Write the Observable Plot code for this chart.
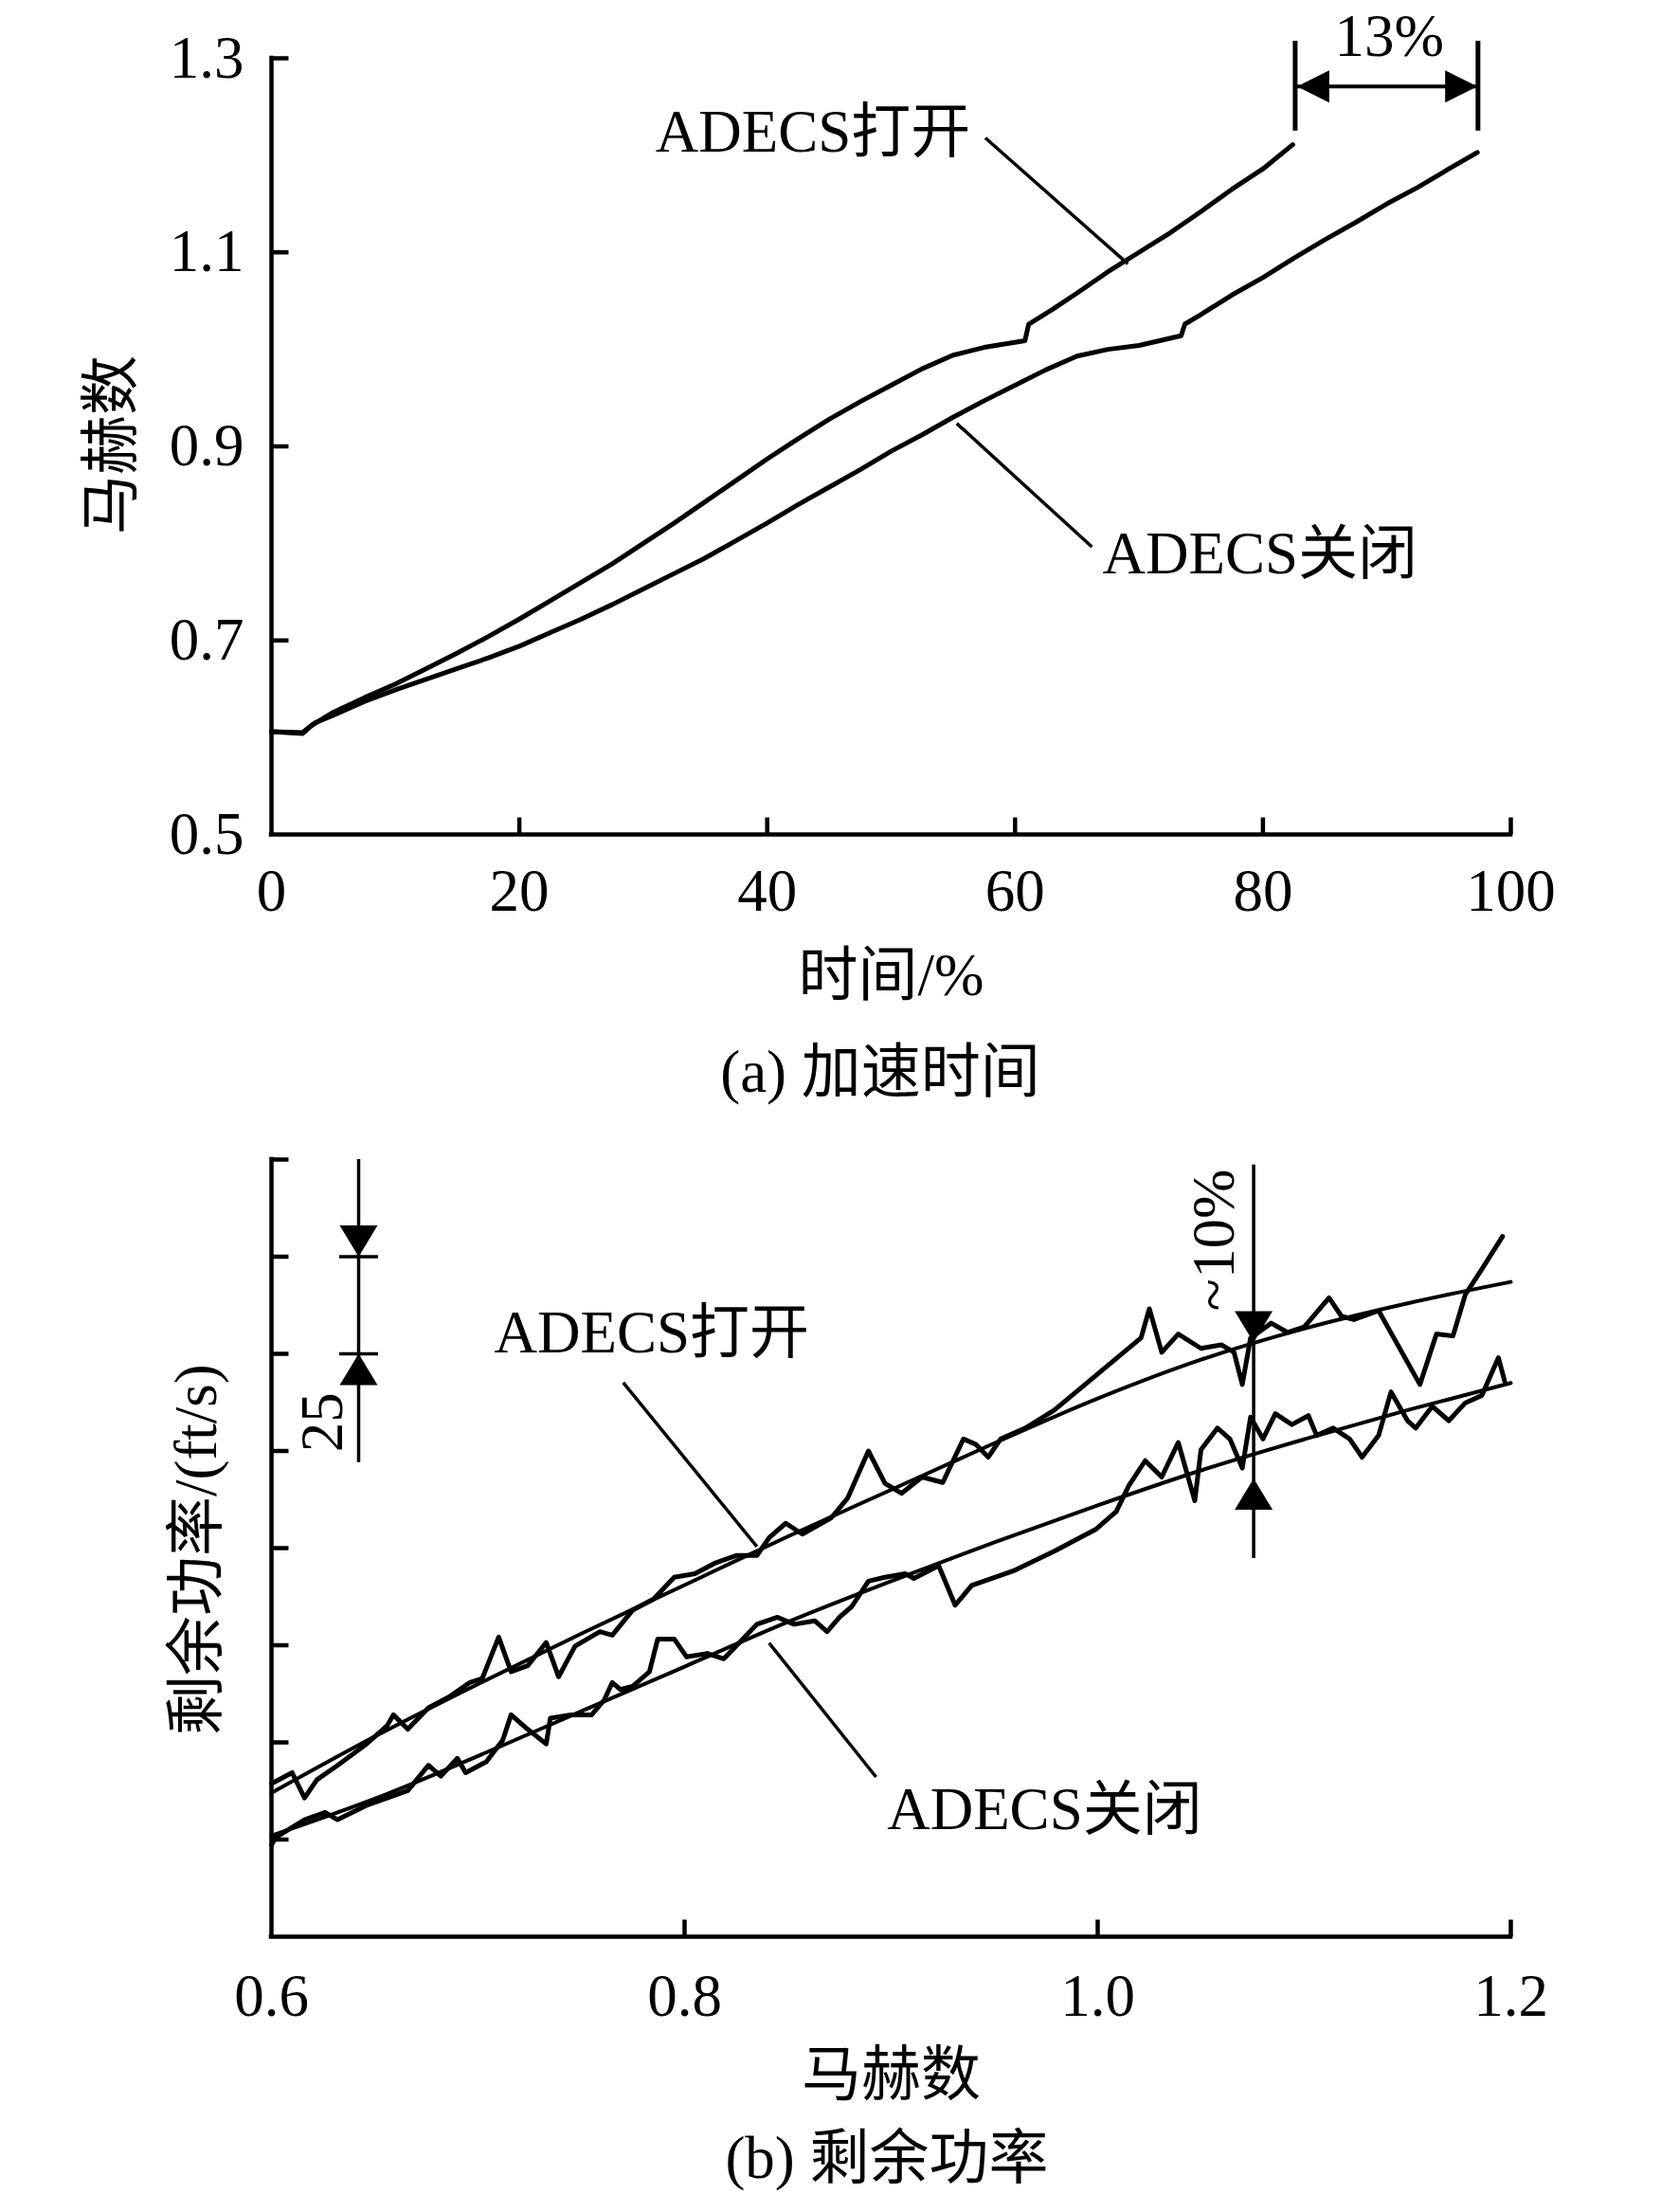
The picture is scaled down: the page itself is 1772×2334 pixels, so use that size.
<!DOCTYPE html>
<html><head><meta charset="utf-8">
<script src="https://cdn.jsdelivr.net/npm/d3@7"></script>
<script src="https://cdn.jsdelivr.net/npm/@observablehq/plot@0.6"></script>
<style>
body{margin:0;background:#fff;}
#page{position:relative;width:1772px;height:2334px;background:#fff;font-family:'Liberation Serif','Noto Sans CJK SC',serif;color:#000;}
.cap{position:absolute;font-size:63px;transform:translate(-50%,-50%);white-space:nowrap;line-height:1;}
#a,#b{position:absolute;left:0;}
#a{top:0;} #b{top:1190px;}
</style></head><body>
<div id="page"><div id="a"></div><div class="cap" id="capA" style="left:929px;top:1131px">(a) 加速时间</div><div id="b"></div><div class="cap" id="capB" style="left:936px;top:2277px">(b) 剩余功率</div></div>
<script>
// ---------- (a) 加速时间 ----------
const timeOpenA = [0,2.5,3.2,5,7.5,10,12.5,15,17.5,20,22.5,25,27.5,30,32.5,35,37.5,40,42.5,45,47.5,50,52.5,55,57.5,60.8,61.1,63,65,67.5,70,72.5,75,77.5,80,82.4];
const machOpenA = [0.606,0.604,0.612,0.626,0.641,0.655,0.671,0.687,0.704,0.722,0.741,0.76,0.779,0.8,0.821,0.843,0.865,0.887,0.908,0.928,0.946,0.963,0.98,0.994,1.002,1.009,1.026,1.041,1.058,1.08,1.1,1.12,1.142,1.165,1.186,1.211];
const timeClosedA = [0,2.5,3.5,5,7.5,10,12.5,15,17.5,20,22.5,25,27.5,30,32.5,35,37.5,40,42.5,45,47.5,50,52.5,55,57.5,60,62.5,65,67.5,70,73.4,73.7,75,77.5,80,82.5,85,87.5,90,92.5,95,97.3];
const machClosedA = [0.606,0.605,0.615,0.623,0.637,0.649,0.66,0.671,0.682,0.694,0.708,0.722,0.737,0.753,0.769,0.785,0.803,0.821,0.84,0.858,0.876,0.895,0.912,0.93,0.947,0.963,0.979,0.993,1.0,1.004,1.014,1.026,1.036,1.056,1.074,1.094,1.113,1.131,1.15,1.167,1.186,1.203];
const xTicksA = [0,20,40,60,80,100];
const yTicksA = [0.5,0.7,0.9,1.1,1.3];

// ---------- (b) 剩余功率 ----------
const machNoisyOpen = [0.600,0.610,0.616,0.622,0.632,0.646,0.656,0.659,0.666,0.676,0.686,0.696,0.702,0.710,0.716,0.724,0.733,0.739,0.747,0.759,0.765,0.775,0.785,0.795,0.805,0.815,0.825,0.835,0.841,0.849,0.857,0.871,0.879,0.889,0.897,0.905,0.915,0.925,0.935,0.941,0.947,0.953,0.965,0.979,1.021,1.025,1.031,1.039,1.050,1.060,1.066,1.070,1.074,1.084,1.092,1.100,1.112,1.118,1.124,1.136,1.156,1.164,1.172,1.178,1.186,1.196];
const powerNoisyOpen = [39.4,42.2,35.7,40.4,44.1,49.6,54.3,57.1,53.4,58.9,61.7,65.4,66.4,77.1,68.2,69.7,75.7,66.9,74.8,78.5,77.6,84.1,86.9,92.5,93.4,96.2,98.1,98.1,102.7,106.4,103.6,107.8,112.9,125.0,116.7,114.1,118.3,116.9,128.1,126.7,123.4,128.1,130.9,135.5,154.1,161.6,150.4,155.1,151.4,152.3,150.4,142.1,154.1,157.9,155.5,156.9,164.4,159.7,158.8,161.1,142.1,155.1,154.6,165.3,171.8,180.2];
const machNoisyClosed = [0.600,0.602,0.616,0.626,0.632,0.646,0.656,0.666,0.676,0.682,0.690,0.694,0.704,0.712,0.716,0.724,0.733,0.735,0.745,0.755,0.761,0.765,0.769,0.775,0.783,0.787,0.795,0.801,0.811,0.819,0.825,0.835,0.845,0.853,0.863,0.869,0.875,0.881,0.889,0.897,0.907,0.911,0.923,0.931,0.939,0.959,0.979,0.999,1.009,1.015,1.023,1.031,1.039,1.047,1.050,1.058,1.064,1.070,1.074,1.080,1.086,1.094,1.102,1.106,1.114,1.122,1.128,1.136,1.142,1.150,1.154,1.162,1.170,1.178,1.186,1.194,1.197];
const powerNoisyClosed = [23.6,25.5,30.1,32.0,30.1,33.8,35.7,37.6,44.1,41.3,45.9,42.2,45.0,50.6,57.1,53.4,49.6,56.2,57.1,57.1,60.8,65.4,63.6,64.5,68.2,76.6,76.6,72.0,72.9,71.5,74.8,80.4,82.2,80.4,81.3,78.5,82.2,85.0,91.5,92.5,93.4,92.2,95.5,85.3,90.4,94.1,99.2,104.8,109.4,116.0,122.5,118.3,127.2,112.2,125.3,130.9,128.1,120.6,133.7,128.1,134.6,131.8,134.1,129.0,130.9,128.1,123.4,129.0,140.2,132.8,130.9,136.5,132.8,137.4,139.3,149.0,143.0];
const machFit = [0.6,0.65,0.7,0.75,0.8,0.85,0.9,0.95,1.0,1.05,1.1,1.15,1.2];
const powerFitOpen = [37,51.5,65,78,90.5,103,115,127,138.5,148.5,156.5,163,168.5];
const powerFitClosed = [26,35.5,46.5,58,69.5,81,91.5,101.5,111,120,128,135.5,142.5];
const xTicksB = [0.6,0.8,1.0,1.2];
const yTicksB = [25,50,75,100,125,150,175,200];

// ---------- helpers ----------
const FONT = "'Liberation Serif','Noto Sans CJK SC',serif";
const FS = 63, AX = 4.5;
const tickRight = {draw(c){c.moveTo(0,0);c.lineTo(18,0);}};
const tickUp = {draw(c){c.moveTo(0,0);c.lineTo(0,-18);}};
const triDown = {draw(c){c.moveTo(0,0);c.lineTo(-20,-33);c.lineTo(20,-33);c.closePath();}};
const triUp = {draw(c){c.moveTo(0,0);c.lineTo(-20,33);c.lineTo(20,33);c.closePath();}};
const triLeft = {draw(c){c.moveTo(0,0);c.lineTo(34,-17);c.lineTo(34,17);c.closePath();}};
const triRight = {draw(c){c.moveTo(0,0);c.lineTo(-34,-17);c.lineTo(-34,17);c.closePath();}};
const zip = (xs, ys) => xs.map((x,i)=>({x, y: ys[i]}));

// ---------- plot (a) ----------
const plotA = Plot.plot({
  width:1772, height:1080, marginTop:61, marginBottom:200, marginLeft:286, marginRight:178,
  style:{fontFamily:FONT, fontSize:FS+"px", color:"#000", background:"transparent", overflow:"visible"},
  x:{domain:[0,100]}, y:{domain:[0.5,1.3]},
  marks:[
    Plot.axisY({ticks:yTicksA, tickSize:0, tickPadding:29, tickFormat:d=>d.toFixed(1), fontSize:FS, label:null}),
    Plot.axisX({ticks:xTicksA, tickSize:0, tickPadding:36, tickFormat:d=>String(d), fontSize:FS, label:null}),
    Plot.ruleX([0], {y1:0.5, y2:1.3, strokeWidth:AX, strokeLinecap:"square"}),
    Plot.ruleY([0.5], {x1:0, x2:100, strokeWidth:AX, strokeLinecap:"square"}),
    Plot.dot(yTicksA.filter(d=>d>0.5), {x:()=>0, y:d=>d, symbol:tickRight, stroke:"black", strokeWidth:AX, fill:"none"}),
    Plot.dot(xTicksA.filter(d=>d>0), {x:d=>d, y:()=>0.5, symbol:tickUp, stroke:"black", strokeWidth:AX, fill:"none"}),
    Plot.line(zip(timeOpenA, machOpenA), {x:"x", y:"y", stroke:"black", strokeWidth:5}),
    Plot.line(zip(timeClosedA, machClosedA), {x:"x", y:"y", stroke:"black", strokeWidth:5}),
    // 13% dimension
    Plot.ruleX([82.6, 97.35], {y1:1.225, y2:1.3176, stroke:"black", strokeWidth:5}),
    Plot.ruleY([1.271], {x1:82.7, x2:97.3, stroke:"black", strokeWidth:4}),
    Plot.dot([{x:82.75,y:1.271}], {x:"x", y:"y", symbol:triLeft, fill:"black", stroke:"none"}),
    Plot.dot([{x:97.3,y:1.271}], {x:"x", y:"y", symbol:triRight, fill:"black", stroke:"none"}),
    Plot.text(["13%"], {x:()=>90.2, y:()=>1.322, text:d=>d, fontSize:FS, lineAnchor:"middle"}),
    // labels + leaders
    Plot.text(["ADECS打开"], {x:()=>56.4, y:()=>1.2238, text:d=>d, fontSize:FS, textAnchor:"end", lineAnchor:"middle"}),
    Plot.link([{x1:57.6,y1:1.2179,x2:69.1,y2:1.0881}], {x1:"x1", y1:"y1", x2:"x2", y2:"y2", stroke:"black", strokeWidth:3.5}),
    Plot.text(["ADECS关闭"], {x:()=>67.05, y:()=>0.789, text:d=>d, fontSize:FS, textAnchor:"start", lineAnchor:"middle"}),
    Plot.link([{x1:55.3,y1:0.9236,x2:66.2,y2:0.7964}], {x1:"x1", y1:"y1", x2:"x2", y2:"y2", stroke:"black", strokeWidth:3.5}),
    // axis titles
    Plot.text(["时间/%"], {x:()=>50, y:()=>0.3545, text:d=>d, fontSize:FS, lineAnchor:"middle"}),
    Plot.text(["马赫数"], {x:()=>-12.9, y:()=>0.9015, text:d=>d, fontSize:FS, rotate:-90, lineAnchor:"middle"})
  ]
});
document.getElementById("a").append(plotA);

// ---------- plot (b) ----------
const plotB = Plot.plot({
  width:1772, height:1050, marginTop:33, marginBottom:197, marginLeft:286, marginRight:178,
  style:{fontFamily:FONT, fontSize:FS+"px", color:"#000", background:"transparent", overflow:"visible"},
  x:{domain:[0.6,1.2]}, y:{domain:[0,200]},
  marks:[
    Plot.axisX({ticks:xTicksB, tickSize:0, tickPadding:39, tickFormat:d=>d.toFixed(1), fontSize:FS, label:null}),
    Plot.axisY({ticks:[], label:null}),
    Plot.ruleX([0.6], {y1:0, y2:200, strokeWidth:AX, strokeLinecap:"square"}),
    Plot.ruleY([0], {x1:0.6, x2:1.2, strokeWidth:AX, strokeLinecap:"square"}),
    Plot.dot(yTicksB, {x:()=>0.6, y:d=>d, symbol:tickRight, stroke:"black", strokeWidth:AX, fill:"none"}),
    Plot.dot(xTicksB.filter(d=>d>0.6), {x:d=>d, y:()=>0, symbol:tickUp, stroke:"black", strokeWidth:AX, fill:"none"}),
    Plot.line(zip(machFit, powerFitOpen), {x:"x", y:"y", stroke:"black", strokeWidth:4, curve:"monotone-x"}),
    Plot.line(zip(machFit, powerFitClosed), {x:"x", y:"y", stroke:"black", strokeWidth:4, curve:"monotone-x"}),
    Plot.line(zip(machNoisyOpen, powerNoisyOpen), {x:"x", y:"y", stroke:"black", strokeWidth:5, strokeLinejoin:"round"}),
    Plot.line(zip(machNoisyClosed, powerNoisyClosed), {x:"x", y:"y", stroke:"black", strokeWidth:5, strokeLinejoin:"round"}),
    // 25 scale bar
    Plot.ruleX([0.6422], {y1:122, y2:200, stroke:"black", strokeWidth:3.5}),
    Plot.ruleY([175,150], {x1:0.633, x2:0.6518, stroke:"black", strokeWidth:3.5}),
    Plot.dot([{x:0.6422,y:175}], {x:"x", y:"y", symbol:triDown, fill:"black", stroke:"none"}),
    Plot.dot([{x:0.6422,y:150}], {x:"x", y:"y", symbol:triUp, fill:"black", stroke:"none"}),
    Plot.text(["25"], {x:()=>0.6248, y:()=>132.4, text:d=>d, fontSize:FS, rotate:-90, lineAnchor:"middle"}),
    // ~10% marker
    Plot.ruleX([1.0755], {y1:97.3, y2:198.6, stroke:"black", strokeWidth:3.5}),
    Plot.dot([{x:1.0755,y:152.9}], {x:"x", y:"y", symbol:triDown, fill:"black", stroke:"none"}),
    Plot.dot([{x:1.0755,y:117.9}], {x:"x", y:"y", symbol:triUp, fill:"black", stroke:"none"}),
    Plot.text(["~10%"], {x:()=>1.0567, y:()=>179.3, text:d=>d, fontSize:FS, rotate:-90, lineAnchor:"middle"}),
    // labels + leaders
    Plot.text(["ADECS打开"], {x:()=>0.7078, y:()=>155.3, text:d=>d, fontSize:FS, textAnchor:"start", lineAnchor:"middle"}),
    Plot.link([{x1:0.7703,y1:142.6,x2:0.835,y2:100.4}], {x1:"x1", y1:"y1", x2:"x2", y2:"y2", stroke:"black", strokeWidth:3.5}),
    Plot.text(["ADECS关闭"], {x:()=>0.898, y:()=>32.7, text:d=>d, fontSize:FS, textAnchor:"start", lineAnchor:"middle"}),
    Plot.link([{x1:0.8409,y1:75.6,x2:0.8927,y2:41.1}], {x1:"x1", y1:"y1", x2:"x2", y2:"y2", stroke:"black", strokeWidth:3.5}),
    // axis titles
    Plot.text(["马赫数"], {x:()=>0.9, y:()=>-35.6, text:d=>d, fontSize:FS, lineAnchor:"middle"}),
    Plot.text(["剩余功率/(ft/s)"], {x:()=>0.5638, y:()=>99.6, text:d=>d, fontSize:FS, rotate:-90, lineAnchor:"middle"})
  ]
});
document.getElementById("b").append(plotB);
</script>
</body></html>
